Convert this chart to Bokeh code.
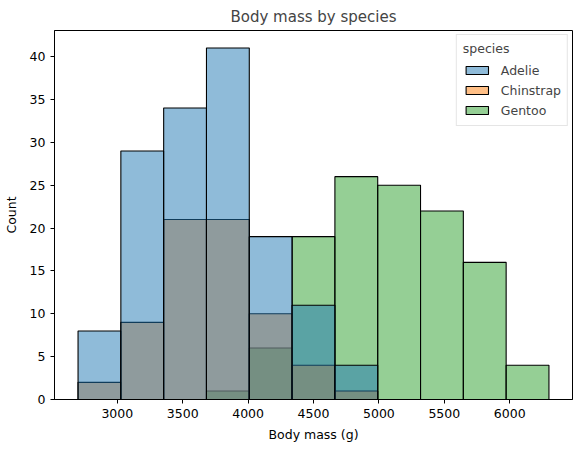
from bokeh.plotting import figure
from bokeh.models import Legend, LegendItem, Range1d, FixedTicker
from bokeh.embed import file_html
from bokeh.resources import INLINE
import numpy as np

# Data
bin_start = 2700
bin_end = 6300
n_bins = 11
species = ["Adelie", "Chinstrap", "Gentoo"]
adelie = [8, 29, 34, 41, 19, 11, 4, 0, 0, 0, 0]
chinstrap = [2, 9, 21, 21, 10, 4, 1, 0, 0, 0, 0]
gentoo = [0, 0, 0, 1, 6, 19, 26, 25, 22, 16, 4]
colors = ["#1f77b4", "#ff7f0e", "#2ca02c"]
x_ticks = [3000, 3500, 4000, 4500, 5000, 5500, 6000]
y_ticks = [0, 5, 10, 15, 20, 25, 30, 35, 40]

edges = np.linspace(bin_start, bin_end, n_bins + 1)
counts = {"Adelie": adelie, "Chinstrap": chinstrap, "Gentoo": gentoo}

FONT = "DejaVu Sans"
FS = "12.5px"
p = figure(width=584, height=451, output_backend="svg", toolbar_location=None,
           title="Body mass by species",
           x_range=Range1d(2520, 6480), y_range=Range1d(0, 43.05),
           min_border_left=54, min_border_right=12, min_border_top=30, min_border_bottom=52)

renderers = {}
for sp, col in reversed(list(zip(species, colors))):
    c = counts[sp]
    r = p.quad(left=edges[:-1], right=edges[1:], bottom=0, top=c,
               fill_color=col, fill_alpha=0.5, line_color="black", line_width=1.1)
    renderers[sp] = r

legend = Legend(items=[LegendItem(label=sp, renderers=[renderers[sp]]) for sp in species],
                location="top_right", title="species")
legend.title_text_font = FONT
legend.title_text_font_size = FS
legend.title_text_font_style = "normal"
legend.title_text_align = "center"
legend.label_text_font = FONT
legend.label_text_font_size = FS
legend.glyph_width = 28
legend.glyph_height = 10
legend.label_height = 18
legend.spacing = 2
legend.padding = 6
legend.margin = 4
legend.border_line_color = "#cccccc"
legend.border_line_width = 1
legend.label_standoff = 10
legend.title_standoff = 5
p.add_layout(legend)

p.title.align = "center"
p.title.text_font = FONT
p.title.text_font_size = "15px"
p.title.text_font_style = "normal"

p.xgrid.visible = False
p.ygrid.visible = False
p.outline_line_color = "black"
p.outline_line_alpha = 1
p.xaxis.axis_label = "Body mass (g)"
p.yaxis.axis_label = "Count"
p.xaxis.ticker = FixedTicker(ticks=x_ticks)
p.yaxis.ticker = FixedTicker(ticks=y_ticks)
for ax in (p.xaxis, p.yaxis):
    ax.axis_label_text_font = FONT
    ax.axis_label_text_font_size = FS
    ax.axis_label_text_font_style = "normal"
    ax.major_label_text_font = FONT
    ax.major_label_text_font_size = FS
    ax.major_tick_in = 0
    ax.major_tick_out = 4
    ax.minor_tick_in = 0
    ax.minor_tick_out = 0
    ax.axis_line_color = "black"
    ax.major_tick_line_color = "black"
    ax.major_label_text_color = "black"
    ax.axis_label_text_color = "black"
p.xaxis.axis_label_standoff = 6
p.yaxis.axis_label_standoff = 8

open("out.html", "w").write(file_html(p, INLINE))
